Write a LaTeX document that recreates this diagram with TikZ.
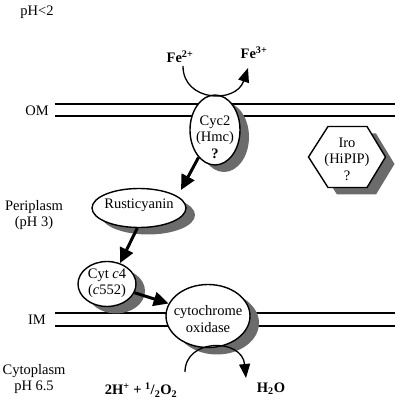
\documentclass[tikz,border=0pt]{standalone}
\usepackage{fontspec}
\setmainfont{Liberation Serif}
\usetikzlibrary{arrows.meta,shapes.geometric,shadows}
\begin{document}
\begin{tikzpicture}[x=1pt,y=1pt,
  font=\fontsize{14.5}{16.5}\selectfont,
  memb/.style={line width=1.3pt},
  shad/.style={drop shadow={shadow xshift=9pt, shadow yshift=-7pt, fill=black!58, opacity=1}},
  prot/.style={ellipse, draw, line width=1.4pt, fill=white, inner sep=0pt, shad},
  lab/.style={align=center, inner sep=0pt},
  bigarrow/.style={line width=3pt, -{Triangle[length=15pt,width=14pt]}},
  arcarrow/.style={line width=1.3pt, -{Triangle[length=14pt,width=11pt]}}
]
\useasboundingbox (0,0) rectangle (400,402);
% membranes
\draw[memb] (55,298) -- (395,298);
\draw[memb] (55,286) -- (395,286);
\draw[memb] (55,89) -- (395,89);
\draw[memb] (55,76) -- (395,76);
% side labels
\node[lab] (ph2) at (37,390) {pH<2};
\node[lab] (om) at (37,291) {OM};
\node[lab, align=center] (peri) at (34,187) {Periplasm\\(pH 3)};
\node[lab] (im) at (37,82) {IM};
\node[lab, align=center] (cyto) at (34,23) {Cytoplasm\\pH 6.5};
% proteins
\node[prot, minimum width=50pt, minimum height=70pt] (cyc2) at (215,272) {};
\node[lab] (cyc2t) at (215,265) {Cyc2\\(Hmc)\\\textbf{?}};
\node[prot, minimum width=94pt, minimum height=39pt] (rust) at (139,194) {};
\node[lab] (rustt) at (139,197) {Rusticyanin};
\node[prot, minimum width=58pt, minimum height=45pt] (cytc4) at (107,118) {};
\node[lab] (cytc4t) at (107,119) {Cyt \textit{c}4\\(\textit{c}552)};
\node[prot, minimum width=84pt, minimum height=63pt] (cox) at (208,86) {};
\node[lab] (coxt) at (208,83) {cytochrome\\oxidase};
% Iro hexagon
\draw[line width=1.4pt, fill=white, shad] (308.5,245) -- (328,275.5) -- (367,275.5) -- (385.5,245) -- (367,214.5) -- (328,214.5) -- cycle;
\node[lab] (irot) at (347,243) {Iro\\(HiPIP)\\?};
% electron flow arrows
\draw[bigarrow, shorten >=7pt] (cyc2.239) -- (rust.17);
\draw[bigarrow] (rust.265) -- (cytc4.58);
\draw[bigarrow] (cytc4) -- (cox);
% iron oxidation
\node[lab] (fe2) at (180,345) {\textbf{Fe}\textsuperscript{\textbf{2+}}};
\node[lab] (fe3) at (254,349) {\textbf{Fe}\textsuperscript{\textbf{3+}}};
\coordinate (fein) at (183,336);
\coordinate (feout) at (248,334);
\draw[arcarrow] (fein) .. controls (183,300) and (236,298) .. (feout);
% oxygen reduction
\node[lab] (o2) at (141,12) {\textbf{2H\textsuperscript{+} + \textsuperscript{1}/\textsubscript{2}O\textsubscript{2}}};
\node[lab] (h2o) at (271,13) {\textbf{H\textsubscript{2}O}};
\coordinate (oin) at (185,30);
\coordinate (oout) at (246,24);
\draw[arcarrow] (oin) .. controls (185,64) and (242,64) .. (oout);
\end{tikzpicture}
\end{document}
